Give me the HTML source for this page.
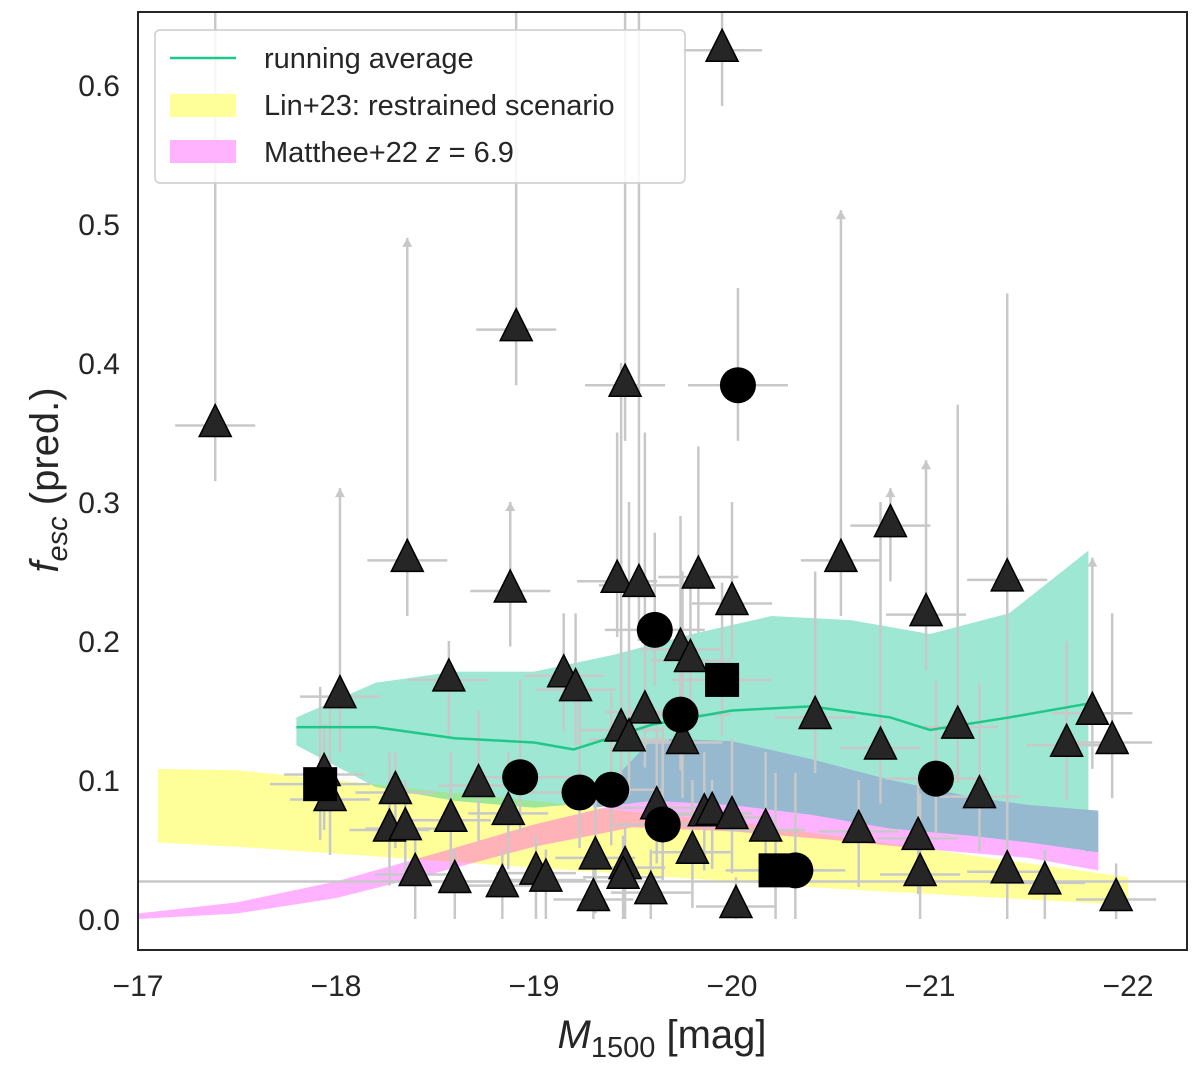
<!DOCTYPE html>
<html><head><meta charset="utf-8">
<style>
body{margin:0;background:#fff;}
svg text{font-family:"Liberation Sans","DejaVu Sans",sans-serif;fill:#262626;}
</style></head>
<body>
<svg id="chart" width="1200" height="1071" xmlns="http://www.w3.org/2000/svg">
<defs><clipPath id="clip"><rect x="138" y="12" width="1049" height="938"/></clipPath></defs>
<g id="bands" clip-path="url(#clip)"></g>
<g id="errs" clip-path="url(#clip)"></g>
<g id="avg" clip-path="url(#clip)"></g>
<g id="pts" clip-path="url(#clip)"></g>
<rect x="138" y="12" width="1049" height="938" fill="none" stroke="#262626" stroke-width="2"/>
<g id="axes"></g>
<text x="662" y="1048" font-size="40" text-anchor="middle"><tspan font-style="italic">M</tspan><tspan font-size="29" dy="9">1500</tspan><tspan dy="-9"> [mag]</tspan></text>
<text transform="translate(58,480) rotate(-90)" font-size="40" text-anchor="middle"><tspan font-style="italic">f</tspan><tspan font-size="29" font-style="italic" dy="9">esc</tspan><tspan dy="-9"> (pred.)</tspan></text>
<g>
<rect x="155" y="30" width="530" height="153" rx="5" fill="#fff" fill-opacity="0.85" stroke="#ccc" stroke-width="1.5"/>
<line x1="170" y1="58" x2="236" y2="58" stroke="#1fc88a" stroke-width="2.5"/>
<text x="264" y="68" font-size="29">running average</text>
<rect x="170" y="94" width="66" height="23" fill="#ffff99"/>
<text x="264" y="115" font-size="29">Lin+23: restrained scenario</text>
<rect x="170" y="140" width="66" height="23" fill="#ffb3ff"/>
<text x="264" y="162" font-size="29">Matthee+22 <tspan font-style="italic">z</tspan> = 6.9</text>
</g>
</svg>
<script>
const xTicks=[-17,-18,-19,-20,-21,-22];
const yTicks=[0.0,0.1,0.2,0.3,0.4,0.5,0.6];
const greenM=[-17.8,-18.2,-18.6,-19.0,-19.4,-19.8,-20.2,-20.6,-21.0,-21.4,-21.8];
const greenHi=[0.145,0.17,0.178,0.178,0.19,0.205,0.218,0.215,0.205,0.22,0.265];
const greenLo=[0.125,0.095,0.085,0.08,0.085,0.10,0.11,0.10,0.085,0.075,0.048];
const avgM=[-17.8,-18.2,-18.6,-19.0,-19.2,-19.6,-20.0,-20.4,-20.8,-21.0,-21.4,-21.8];
const avgV=[0.138,0.138,0.130,0.127,0.122,0.140,0.150,0.153,0.145,0.136,0.145,0.155];
const yelM=[-17.1,-17.5,-18.0,-18.5,-19.0,-19.5,-20.0,-20.5,-21.0,-21.5,-22.0];
const yelHi=[0.108,0.107,0.10,0.092,0.085,0.077,0.07,0.06,0.05,0.04,0.03];
const yelLo=[0.055,0.052,0.047,0.042,0.037,0.032,0.027,0.022,0.018,0.014,0.01];
const pinkM=[-17.0,-17.5,-18.0,-18.5,-19.0,-19.5,-20.0,-20.5,-21.0,-21.5,-21.85];
const pinkHi=[0.004,0.012,0.027,0.047,0.068,0.085,0.087,0.082,0.075,0.07,0.075];
const pinkLo=[0.0,0.004,0.015,0.033,0.052,0.066,0.063,0.057,0.05,0.044,0.035];
const blueM=[-19.3,-19.6,-20.0,-20.4,-20.8,-21.2,-21.5,-21.85];
const blueHi=[0.085,0.13,0.128,0.115,0.10,0.088,0.082,0.078];
const blueLo=[0.08,0.085,0.082,0.075,0.065,0.06,0.055,0.048];
const triM=[-17.39,-19.95,-18.91,-19.46,-20.80,-18.36,-18.88,-19.42,-19.53,-19.83,-20.0,-20.55,-20.98,-21.39,-18.02,-18.57,-19.15,-19.21,-19.74,-19.79,-19.56,-20.42,-21.14,-20.75,-21.82,-21.69,-21.92,-19.44,-19.48,-19.75,-17.94,-17.97,-18.30,-18.72,-18.87,-18.27,-18.35,-18.58,-19.62,-19.86,-19.90,-20.0,-20.17,-20.64,-20.94,-21.25,-19.80,-19.31,-18.40,-18.60,-18.84,-19.01,-19.06,-19.46,-19.45,-19.59,-19.30,-20.02,-20.95,-21.39,-21.58,-21.94];
const triV=[0.355,0.625,0.424,0.384,0.283,0.258,0.236,0.243,0.240,0.246,0.227,0.258,0.219,0.244,0.160,0.172,0.175,0.165,0.194,0.186,0.149,0.145,0.138,0.123,0.148,0.125,0.127,0.136,0.129,0.127,0.104,0.086,0.091,0.096,0.076,0.064,0.065,0.071,0.080,0.075,0.076,0.073,0.064,0.063,0.058,0.088,0.048,0.044,0.032,0.027,0.024,0.033,0.028,0.037,0.030,0.019,0.014,0.009,0.032,0.034,0.026,0.014];
const triHi=[0.66,0.66,0.66,0.66,0.31,0.49,0.30,0.35,0.66,0.34,0.30,0.51,0.33,0.30,0.31,0.20,0.22,0.22,0.29,0.25,0.35,0.25,0.37,0.30,0.26,0.20,0.22,0.40,0.30,0.25,0.14,0.16,0.12,0.15,0.12,0.12,0.10,0.12,0.14,0.12,0.10,0.13,0.12,0.10,0.10,0.17,0.10,0.09,0.06,0.05,0.05,0.06,0.05,0.07,0.06,0.05,0.04,0.03,0.09,0.45,0.05,0.04];
const circM=[-20.03,-19.61,-19.74,-18.93,-19.23,-19.39,-19.65,-21.03,-20.32];
const circV=[0.384,0.208,0.147,0.102,0.091,0.093,0.068,0.101,0.035];
const sqM=[-17.92,-19.95,-20.22];
const sqV=[0.097,0.172,0.035];
const arrowIdx=[4,5,6,11,12,14,24];
const hLine=0.027;

const X=m=>138+(-m-17)*198;
const Y=v=>919-v*1390;
const NS="http://www.w3.org/2000/svg";
function mk(tag,attrs,parent){const e=document.createElementNS(NS,tag);for(const k in attrs)e.setAttribute(k,attrs[k]);parent.appendChild(e);return e;}
function bandPath(ms,hi,lo){let d='';ms.forEach((m,i)=>{d+=(i?'L':'M')+X(m)+','+Y(hi[i]);});for(let i=ms.length-1;i>=0;i--)d+='L'+X(ms[i])+','+Y(lo[i]);return d+'Z';}
const B=document.getElementById('bands');
let p;
p=mk('path',{d:bandPath(yelM,yelHi,yelLo),fill:'rgb(255,255,0)','fill-opacity':0.4},B);


p=mk('path',{d:bandPath(pinkM,pinkHi,pinkLo),fill:'rgb(255,0,255)','fill-opacity':0.3},B);


p=mk('path',{d:bandPath(greenM,greenHi,greenLo),fill:'rgb(30,200,150)','fill-opacity':0.43},B);


p=mk('path',{d:bandPath(blueM,blueHi,blueLo),fill:'#96b9d0'},B);


const A=document.getElementById('avg');
p=mk('polyline',{points:avgM.map((m,i)=>X(m)+','+Y(avgV[i])).join(' '),fill:'none',stroke:'#1fc88a','stroke-width':2.5},A);


const E=document.getElementById('errs');
const gray='#c8c8c8';
p=mk('line',{x1:138,x2:1187,y1:Y(hLine),y2:Y(hLine),stroke:gray,'stroke-width':2.5},E);


triM.forEach((m,i)=>{
  const x=X(m),y=Y(triV[i]);
  const lo=Math.max(0,triV[i]-0.04);
  const l=mk('line',{x1:x,x2:x,y1:Y(lo),y2:Y(triHi[i]),stroke:gray,'stroke-width':2.5},E);
  
  
  const h=mk('line',{x1:x-40,x2:x+40,y1:y,y2:y,stroke:gray,'stroke-width':2.5},E);
  
  
  if(arrowIdx.includes(i)){const yt=Y(triHi[i]);const a=mk('path',{d:`M${x-5},${yt+9}L${x},${yt}L${x+5},${yt+9}Z`,fill:gray},E);
  
  }
});
circM.concat(sqM).forEach((m,i)=>{
  const v=i<circM.length?circV[i]:sqV[i-circM.length];const x=X(m),y=Y(v);
  const h=mk('line',{x1:x-50,x2:x+50,y1:y,y2:y,stroke:gray,'stroke-width':2.5},E);
  
  
  const l=mk('line',{x1:x,x2:x,y1:Y(Math.max(0,v-0.04)),y2:Y(v+0.07),stroke:gray,'stroke-width':2.5},E);
  
  
});
const P=document.getElementById('pts');
triM.forEach((m,i)=>{const x=X(m),y=Y(triV[i]);
  const t=mk('path',{d:`M${x},${y-21}L${x+16},${y+11}L${x-16},${y+11}Z`,fill:'#262626',stroke:'#000','stroke-width':1.5},P);
  
  });
circM.forEach((m,i)=>{const c=mk('circle',{cx:X(m),cy:Y(circV[i]),r:18,fill:'#000'},P);
  
  });
sqM.forEach((m,i)=>{const s=mk('rect',{x:X(m)-17,y:Y(sqV[i])-17,width:34,height:34,fill:'#000'},P);
  
  });
const G=document.getElementById('axes');
xTicks.forEach(t=>{const tx=mk('text',{x:X(t),y:996,'font-size':30,'text-anchor':'middle'},G);tx.textContent='\u2212'+Math.abs(t);
  
  });
yTicks.forEach(t=>{const ty=mk('text',{x:120,y:Y(t)+11,'font-size':30,'text-anchor':'end'},G);ty.textContent=t.toFixed(1);
  
  });
</script>
</body></html>
